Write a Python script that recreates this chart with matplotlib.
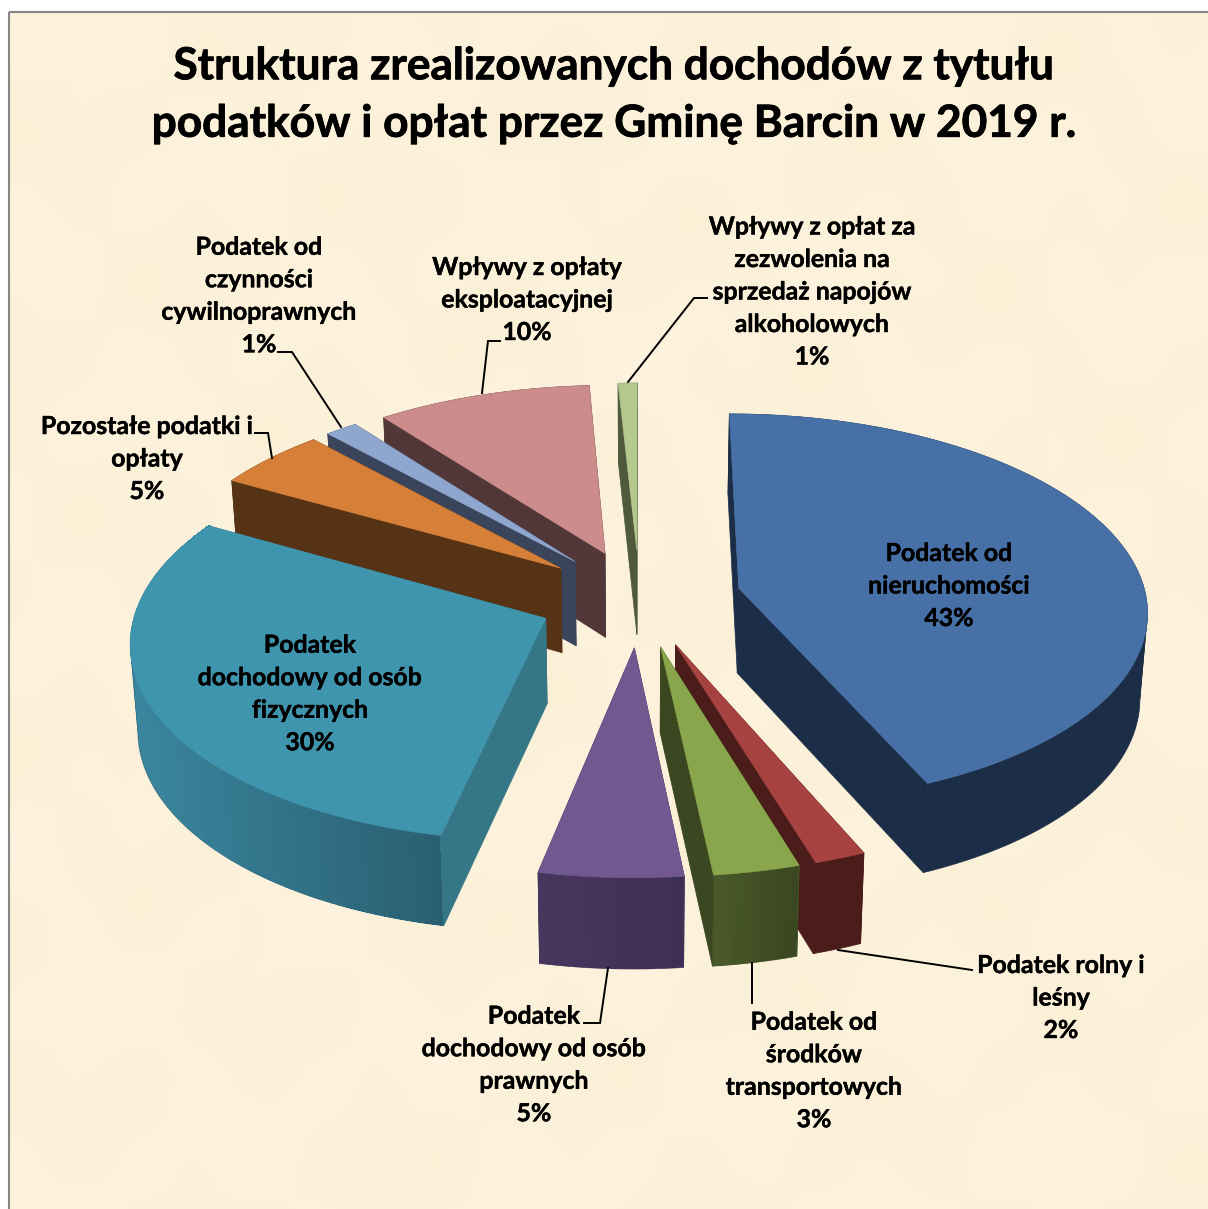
#!/usr/bin/env python3
"""Exploded 3D pie: income structure, Gmina Barcin 2019."""

import numpy as np
import matplotlib
matplotlib.use("Agg")
import matplotlib.pyplot as plt
import matplotlib.patheffects as pe
from matplotlib.colors import to_rgb
from matplotlib.patches import Rectangle

TITLE = "Struktura zrealizowanych dochodów z tytułu\npodatków i opłat przez Gminę Barcin w 2019 r."

names = [
    "Podatek od\nnieruchomości",
    "Podatek rolny i\nleśny",
    "Podatek od\nśrodków\ntransportowych",
    "Podatek\ndochodowy od osób\nprawnych",
    "Podatek\ndochodowy od osób\nfizycznych",
    "Pozostałe podatki i\nopłaty",
    "Podatek od\nczynności\ncywilnoprawnych",
    "Wpływy z opłaty\neksploatacyjnej",
    "Wpływy z opłat za\nzezwolenia na\nsprzedaż napojów\nalkoholowych",
]
# shares, the labels show them rounded
values = [43.49, 1.79, 3.0, 5.0, 29.86, 5.0, 1.44, 9.58, 0.84]

top_colors = ["#4670A6", "#A64341", "#8AA64C", "#71588F", "#4095AE",
              "#D57F38", "#8FA6CE", "#CD8C8C", "#B5C98E"]
cut_colors = ["#1C2E47", "#4A1C1A", "#3A4720", "#41315A", "#357687",
              "#573316", "#3A445A", "#523738", "#4F5A3D"]
wall_left = ["#1C2E47", "#4A1C1A", "#4B5A2A", "#48365E", "#3A869E",
             "#573316", "#3A445A", "#523738", "#4F5A3D"]
wall_right = ["#1C2E47", "#4A1C1A", "#3A4720", "#3E2F55", "#2A5F71",
              "#573316", "#3A445A", "#523738", "#4F5A3D"]

# label centre and leader polyline in picture pixels
label_xy = [(949, 586), (1061, 998), (814, 1071), (534, 1065), (310, 694),
            (147, 459), (259, 296), (527, 300), (812, 292)]
leaders = [
    None,
    [(972, 970), (838, 950)],
    [(752, 1003), (752, 963)],
    [(584, 1023), (600, 1023), (608, 968)],
    None,
    [(255, 433), (268, 433), (272, 458)],
    [(278, 352), (292, 352), (341, 427)],
    [(500, 341), (488, 341), (482, 393)],
    [(707, 298), (694, 298), (628, 382)],
]

# projection of the pie plane into picture pixels
CX, CY = 639.5, 598
AX, AY = 407.5, 194.5
PERSP = 0.105
DEPTH = 85
TAPER = 0.015
EXPLODE = 0.25
START_DEG = 0.0


def project(x, y, z=0.0):
    w = 1 + PERSP * y
    return CX + AX * x / w * (1 - TAPER * z), CY - AY * y / w + z * DEPTH / np.sqrt(w)


def mix(c1, c2, t):
    a, b = np.array(to_rgb(c1)), np.array(to_rgb(c2))
    return tuple(a + (b - a) * t)


def draw_slice(ax, a0, a1, i):
    mid = np.radians((a0 + a1) / 2)
    ox, oy = EXPLODE * np.sin(mid), EXPLODE * np.cos(mid)
    ang = np.radians(np.linspace(a0, a1, max(8, int((a1 - a0) * 1.5))))
    ex, ey = ox + np.sin(ang), oy + np.cos(ang)

    tx, ty = project(ex, ey)
    bx, by = project(ex, ey, 1)
    ax0, ay0 = project(ox, oy)
    ax1, ay1 = project(ox, oy, 1)
    z = 3 + i_order[i] * 0.1

    # back parts first
    items = [
        (min(ay0, ty[0]), [ax0, tx[0], bx[0], ax1], [ay0, ty[0], by[0], ay1], cut_colors[i]),
        (min(ay0, ty[-1]), [ax0, tx[-1], bx[-1], ax1], [ay0, ty[-1], by[-1], ay1], cut_colors[i]),
    ]
    # the arc wall is cut at its silhouette points so it never folds over itself
    mid_col = mix(wall_left[i], wall_right[i], 0.5)
    cuts = sorted({0, int(np.argmax(tx)), int(np.argmin(tx)), len(ang) - 1})
    for c0, c1 in zip(cuts[:-1], cuts[1:]):
        s = slice(c0, c1 + 1)
        items.append((ty[s].min(), np.r_[tx[s], bx[s][::-1]], np.r_[ty[s], by[s][::-1]], mid_col))
    for _, fx, fy, col in sorted(items, key=lambda f: f[0]):
        ax.fill(fx, fy, color=col, linewidth=0.5, zorder=z)

    # gradient bands, kept a little inside the wall so its rim stays smooth
    if wall_left[i] != wall_right[i]:
        ix, iy = project(ex, ey, 0.985)
        centre = (tx.max() + tx.min()) / 2
        shrink = 1 - 2.0 / ((tx.max() - tx.min()) / 2)
        ux = centre + (tx - centre) * shrink
        lx = centre + (ix - centre) * shrink
        for k in range(len(ang) - 1):
            t = (tx[k] - tx.min()) / max(tx.max() - tx.min(), 1)
            ax.fill([ux[k], ux[k + 1], lx[k + 1], lx[k]],
                    [ty[k], ty[k + 1], iy[k + 1], iy[k]],
                    color=mix(wall_left[i], wall_right[i], t),
                    linewidth=1.0, antialiased=False, zorder=z + 0.01)

    ax.fill(np.r_[ax0, tx], np.r_[ay0, ty], color=top_colors[i], linewidth=0.4,
            zorder=z + 0.05)


plt.rcParams["font.family"] = ["Lato", "DejaVu Sans"]
fig = plt.figure(figsize=(12.08, 12.09), dpi=100)
ax = fig.add_axes([0, 0, 1, 1])
ax.axis("off")

# mottled paper background, made of a few soft waves
gx, gy = np.meshgrid(np.linspace(0, 1, 300), np.linspace(0, 1, 300))
tex = (np.sin(gx * 23 + gy * 7) * np.cos(gy * 31 - gx * 5)
       + 0.6 * np.sin(gx * 61 + 1.3) * np.sin(gy * 47 + 0.4))
base = np.array(to_rgb("#FCF1DA"))
paper = np.clip(base[None, None, :] + tex[:, :, None] * np.array([0.002, 0.005, 0.010]), 0, 1)
ax.imshow(paper, extent=(9, 1208, 1209, 12), aspect="auto", zorder=0, interpolation="bilinear")
ax.set_xlim(0, 1208)
ax.set_ylim(1209, 0)
ax.add_patch(Rectangle((9, 12), 1300, 1300, fill=False, edgecolor="#868686", linewidth=1.5, zorder=1))

heavy = [pe.withStroke(linewidth=0.6, foreground="black")]
ax.text(614, 95, TITLE, ha="center", va="center", fontsize=31.8, fontweight="bold",
        color="black", linespacing=1.53, zorder=10, path_effects=heavy)

cum = np.cumsum([0] + values) / sum(values) * 360 + START_DEG
mids = np.radians((cum[:-1] + cum[1:]) / 2)
# painter's order: far apexes first
apex_y = [project(EXPLODE * np.sin(m), EXPLODE * np.cos(m))[1] for m in mids]
i_order = {idx: rank for rank, idx in enumerate(np.argsort(apex_y))}

for i in range(len(values)):
    draw_slice(ax, cum[i], cum[i + 1], i)

for i, (name, val) in enumerate(zip(names, values)):
    lx, ly = label_xy[i]
    ax.text(lx, ly, f"{name}\n{round(val)}%", ha="center", va="center", fontsize=17.9,
            fontweight="bold", color="black", linespacing=1.5, zorder=9,
            path_effects=[pe.withStroke(linewidth=0.3, foreground="black")])
    if leaders[i] is not None:
        px, py = zip(*leaders[i])
        ax.plot(px, py, color="black", linewidth=1.4, zorder=8, solid_joinstyle="miter")

fig.savefig("out.png", dpi=100)
